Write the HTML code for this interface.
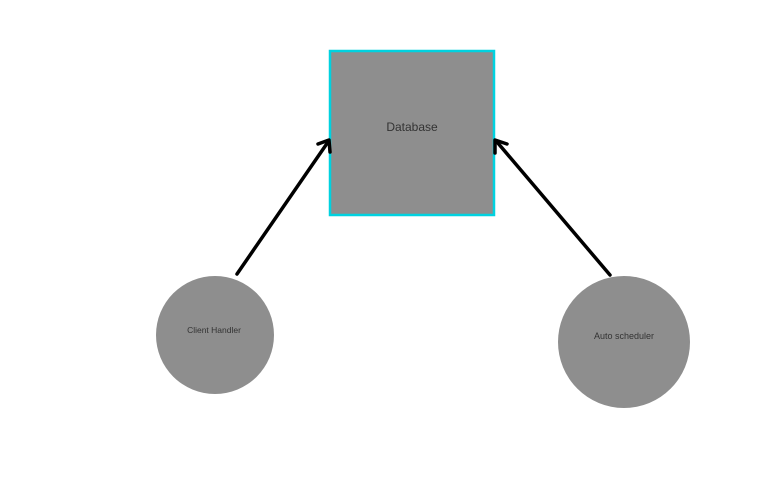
<!DOCTYPE html>
<html><head><style>html,body{margin:0;padding:0;background:#fff;width:778px;height:491px;overflow:hidden}</style></head>
<body>
<svg width="778" height="491" viewBox="0 0 778 491" xmlns="http://www.w3.org/2000/svg">
<rect x="330" y="51" width="164" height="164" fill="#8e8e8e" stroke="#00d2e0" stroke-width="2.5"/>
<text x="412" y="131" font-family="Liberation Sans, sans-serif" font-size="12" fill="#333" text-anchor="middle">Database</text>
<circle cx="215" cy="335" r="59" fill="#8e8e8e"/>
<text x="214" y="333" font-family="Liberation Sans, sans-serif" font-size="8.5" fill="#333" text-anchor="middle">Client Handler</text>
<circle cx="624" cy="342" r="66" fill="#8e8e8e"/>
<text x="624" y="339" font-family="Liberation Sans, sans-serif" font-size="9" fill="#333" text-anchor="middle">Auto scheduler</text>
<g stroke="#000" stroke-width="3.5" fill="none" stroke-linecap="round" stroke-linejoin="round">
<line x1="237" y1="274" x2="328" y2="142"/>
<polyline points="318,144 329,140 330,152"/>
<line x1="610" y1="275" x2="497" y2="142"/>
<polyline points="495,153 495,140 507,144"/>
</g>
</svg>
</body></html>
